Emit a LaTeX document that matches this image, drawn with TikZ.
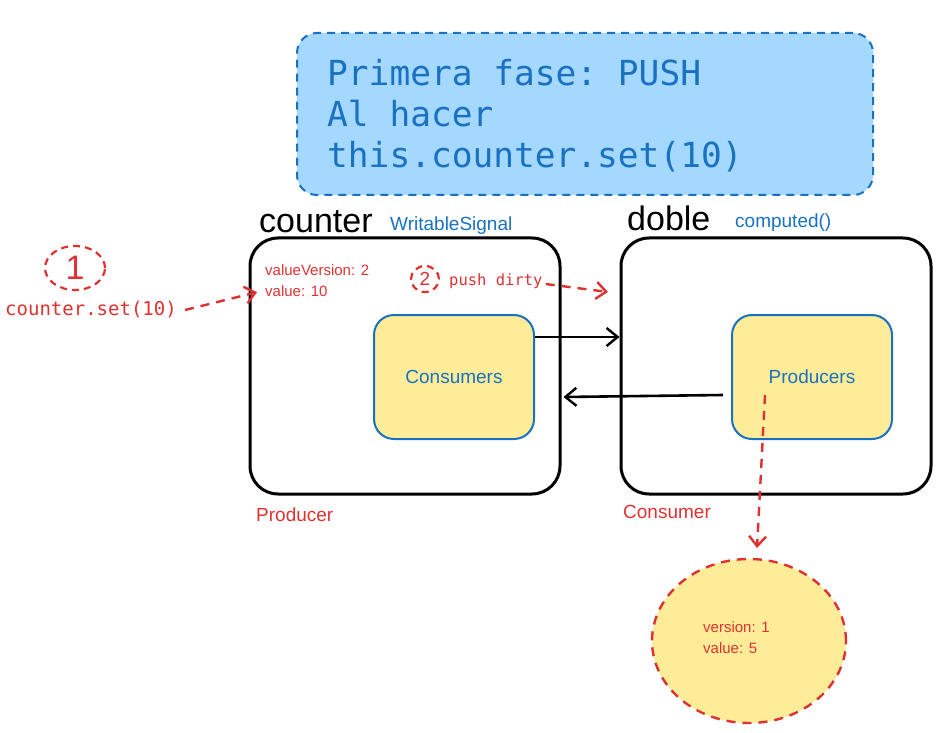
\documentclass[tikz,border=0pt]{standalone}
\usepackage{fontspec}
\setmainfont{Liberation Sans}
\setmonofont{DejaVu Sans Mono}
\usetikzlibrary{positioning,calc}
\usetikzlibrary{arrows.meta,shapes.geometric}
\definecolor{SkRed}{RGB}{224,49,49}
\definecolor{SkBlue}{RGB}{25,113,194}
\definecolor{SkSky}{RGB}{165,216,255}
\definecolor{SkSand}{RGB}{255,236,153}
\tikzset{
	note/.style={draw=SkBlue,line width=2pt,fill=SkSky,rounded corners=20pt,
		minimum width=576pt,minimum height=162pt,dash pattern=on 8pt off 6pt},
	signal/.style={draw=black,line width=3pt,rounded corners=28pt,
		minimum width=310pt,minimum height=256pt},
	inner/.style={draw=SkBlue,line width=2pt,fill=SkSand,rounded corners=20pt,
		minimum width=160pt,minimum height=124pt,text=SkBlue,font=\fontsize{19}{22}\selectfont},
	title/.style={anchor=base west,inner sep=0pt,font=\fontsize{34}{40}\selectfont},
	kind/.style={anchor=base west,inner sep=0pt,text=SkBlue,font=\fontsize{19}{22}\selectfont},
	role/.style={anchor=base west,inner sep=0pt,text=SkRed,font=\fontsize{19}{22}\selectfont},
	state/.style={align=left,inner sep=0pt,text=SkRed,font=\fontsize{15}{21}\selectfont},
	link/.style={draw=black,line width=2.6pt,-{Straight Barb[length=11pt,width=18pt,line width=2.4pt]}},
	flow/.style={draw=SkRed,line width=2.4pt,dash pattern=on 9pt off 7pt,
		-{Straight Barb[length=10pt,width=17pt,line width=2.4pt]}},
	stepmark/.style={ellipse,draw=SkRed,line width=2.2pt,dash pattern=on 7pt off 5pt,
		text=SkRed,inner sep=0pt},
}

\begin{document}
\begin{tikzpicture}[x=1pt,y=-1pt]
	\useasboundingbox (0,0) rectangle (938,733);
	% header note
	\node[note] (phase) at (585,114) {};
	\node[anchor=west,align=left,inner sep=0pt,text=SkBlue,font=\ttfamily\fontsize{34.5}{41}\selectfont]
		(phasetxt) at (327,116) {Primera fase: PUSH\\Al hacer\\this.counter.set(10)};
	% producer side
	\node[signal] (counter) at (405,366) {};
	\node[title] (countertit) at (259,233) {counter};
	\node[kind] (countertype) at (390,230) {WritableSignal};
	\node[inner] (consumers) at (454,377) {Consumers};
	\node[state,anchor=north west] (countervals) at (265,264) {valueVersion: 2\\value: 10};
	\node[role] (producerlbl) at (256,521) {Producer};
	% consumer side
	\node[signal] (doble) at (776,366) {};
	\node[title] (dobletit) at (627,231) {doble};
	\node[kind] (dobletype) at (735,227) {computed()};
	\node[inner] (producers) at (812,377) {Producers};
	\node[role] (consumerlbl) at (623,518) {Consumer};
	% node in doble
	\node[ellipse,draw=SkRed,line width=2.4pt,dash pattern=on 9pt off 7pt,fill=SkSand,
		minimum width=194pt,minimum height=164pt] (node) at (749,641) {};
	\node[state,anchor=north west] (nodevals) at (703,621) {version: 1\\value: 5};
	% step 1
	\node[stepmark,minimum width=60pt,minimum height=44pt,font=\fontsize{34}{34}\selectfont] (one) at (75,268) {1};
	\node[anchor=west,inner sep=0pt,text=SkRed,font=\ttfamily\fontsize{19}{22}\selectfont]
		(setcall) at (5,310) {counter.set(10)};
	% step 2
	\node[stepmark,minimum width=28pt,minimum height=26pt,font=\fontsize{19}{19}\selectfont] (two) at (425,279) {2};
	\node[anchor=west,inner sep=0pt,text=SkRed,font=\ttfamily\fontsize{15.5}{18}\selectfont]
		(pushlbl) at (449,281) {push dirty};
	\coordinate (pushend) at (608,292);
	\coordinate (readend) at (757,548);
	% connectors
	\draw[link] ([yshift=40pt]consumers.east) -- ([yshift=29pt]doble.west);
	\draw[link] ([xshift=-8pt,yshift=-18pt]producers.west) -- ([xshift=2pt,yshift=-31pt]counter.east);
	\draw[flow] ([xshift=8pt]setcall.east) -- ([xshift=-8pt,yshift=-12pt]countervals.west);
	\draw[flow] ([xshift=3pt,yshift=-3pt]pushlbl.east) -- (pushend);
	\draw[flow] ([xshift=-47pt,yshift=-18pt]producers.center) -- (readend);
\end{tikzpicture}
\end{document}
